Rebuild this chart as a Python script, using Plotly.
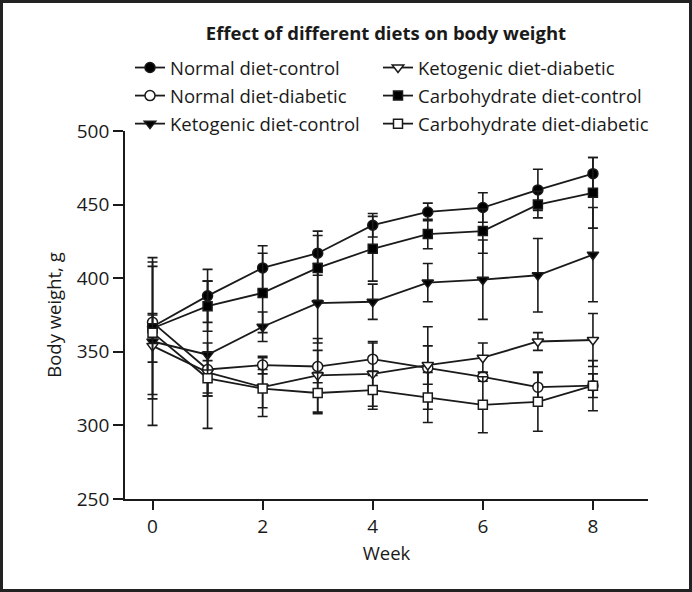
import plotly.graph_objects as go

weeks = [0, 1, 2, 3, 4, 5, 6, 7, 8]

names = [
    "Normal diet-control",
    "Normal diet-diabetic",
    "Ketogenic diet-control",
    "Ketogenic diet-diabetic",
    "Carbohydrate diet-control",
    "Carbohydrate diet-diabetic",
]

normal_control = [367, 388, 407, 417, 436, 445, 448, 460, 471]
normal_control_err = [9, 18, 15, 15, 8, 6, 10, 14, 11]

normal_diabetic = [370, 338, 341, 340, 345, 339, 333, 326, 327]
normal_diabetic_err = [5, 18, 6, 11, 11, 28, 3, 10, 8]

keto_control = [357, 348, 367, 383, 384, 397, 399, 402, 416]
keto_control_err = [57, 50, 10, 27, 12, 13, 27, 25, 32]

keto_diabetic = [354, 336, 326, 334, 335, 341, 346, 357, 358]
keto_diabetic_err = [11, 14, 20, 25, 22, 13, 10, 6, 18]

carb_control = [366, 381, 390, 407, 420, 430, 432, 450, 458]
carb_control_err = [45, 17, 27, 22, 22, 10, 15, 9, 24]

carb_diabetic = [363, 332, 325, 322, 324, 319, 314, 316, 327]
carb_diabetic_err = [45, 12, 13, 14, 13, 17, 19, 20, 17]

y_ticks = [250, 300, 350, 400, 450, 500]
x_ticks = [0, 2, 4, 6, 8]

series = [
    (names[0], normal_control, normal_control_err, "circle", "black", "legend"),
    (names[1], normal_diabetic, normal_diabetic_err, "circle", "white", "legend"),
    (names[2], keto_control, keto_control_err, "triangle-down", "black", "legend"),
    (names[3], keto_diabetic, keto_diabetic_err, "triangle-down", "white", "legend2"),
    (names[4], carb_control, carb_control_err, "square", "black", "legend2"),
    (names[5], carb_diabetic, carb_diabetic_err, "square", "white", "legend2"),
]

FONT = "Open Sans"
INK = "#1a1a1a"
W, H = 692, 592
ML, MR, MT, MB = 125, 44, 131, 93
PW, PH = W - ML - MR, H - MT - MB

fig = go.Figure()
for name, vals, errs, sym, fill, leg in series:
    fig.add_trace(go.Scatter(
        x=weeks, y=vals, name=name, mode="lines+markers",
        line=dict(color=INK, width=1.8),
        marker=dict(symbol=sym, size=10 if sym != "square" else 9, color=fill,
                    line=dict(color=INK, width=1.5)),
        error_y=dict(type="data", array=errs, visible=True, color=INK,
                     thickness=1.6, width=5),
        legend=leg, legendgroup=name,
    ))

legend_common = dict(
    orientation="v", xanchor="left", yanchor="top",
    font=dict(family=FONT, size=18.5, color=INK),
    bgcolor="rgba(0,0,0,0)", tracegroupgap=1, itemwidth=30,
)

fig.update_layout(
    width=W, height=H,
    margin=dict(l=ML, r=MR, t=MT, b=MB, autoexpand=False),
    paper_bgcolor="white", plot_bgcolor="white",
    font=dict(family=FONT, size=19, color=INK),
    title=dict(text="<b>Effect of different diets on body weight</b>",
               x=386 / W, xanchor="center", y=1 - 34 / H, yanchor="middle",
               font=dict(family=FONT, size=18.5, color=INK)),
    legend=dict(x=(130 - ML) / PW, y=1 + (MT - 49) / PH, **legend_common),
    legend2=dict(x=(378 - ML) / PW, y=1 + (MT - 49) / PH, **legend_common),
    showlegend=True,
    xaxis=dict(range=[-0.5, 9], tickvals=x_ticks, showgrid=False, zeroline=False,
               showline=True, linecolor=INK, linewidth=1.8,
               ticks="outside", ticklen=9, tickwidth=1.5, tickcolor=INK,
               tickfont=dict(family=FONT, size=19),
               title=dict(text="Week", font=dict(family=FONT, size=18.5), standoff=9)),
    yaxis=dict(range=[250, 500], tickvals=y_ticks, showgrid=False, zeroline=False,
               showline=True, linecolor=INK, linewidth=1.8,
               ticks="outside", ticklen=10, tickwidth=1.5, tickcolor=INK,
               tickfont=dict(family=FONT, size=19),
               title=dict(text="Body weight, g", font=dict(family=FONT, size=18.5), standoff=10)),
)

fig.add_shape(type="rect", xref="paper", yref="paper",
              x0=-ML / PW + 1.5 / PW, x1=1 + MR / PW - 1.5 / PW,
              y0=-MB / PH + 1.5 / PH, y1=1 + MT / PH - 1.5 / PH,
              line=dict(color="#222", width=3), fillcolor="rgba(0,0,0,0)", layer="above")

fig.write_html("out.html", config={"displayModeBar": False},
               post_script="document.body.style.margin='0';")
